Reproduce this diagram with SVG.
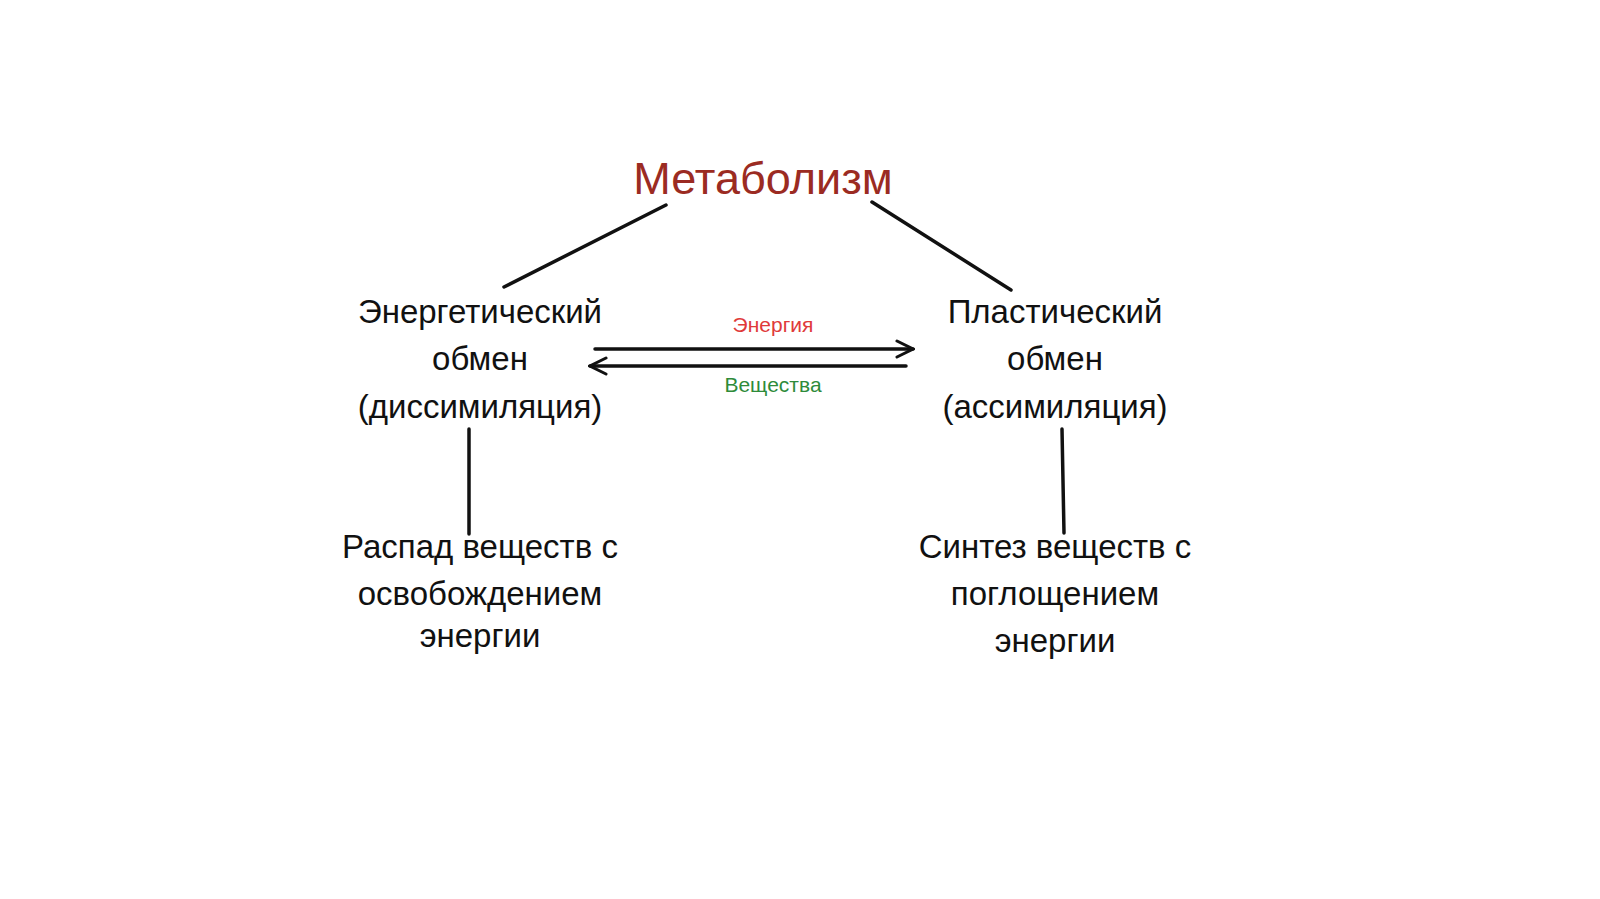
<svg xmlns="http://www.w3.org/2000/svg" width="1600" height="899" viewBox="0 0 1600 899">
<style>
text{font-family:"Liberation Sans","DejaVu Sans",sans-serif;text-anchor:middle}
.n{font-size:33px;fill:#111}
.t{font-size:45px;fill:#9b2b22}
.l{stroke:#111;stroke-width:3.5;fill:none;stroke-linecap:round}
</style>
<defs>
<marker id="ah" viewBox="0 0 20 20" refX="18" refY="10" markerWidth="20" markerHeight="20" markerUnits="userSpaceOnUse" orient="auto">
<path d="M2,2 L18,10 L2,18" fill="none" stroke="#111" stroke-width="3" stroke-linecap="round"/>
</marker>
</defs>
<rect width="1600" height="899" fill="#fff"/>
<g id="title"><text class="t" x="763" y="194">Метаболизм</text></g>
<g id="energy-exchange"><text class="n" x="480" y="323">Энергетический</text><text class="n" x="480" y="370">обмен</text><text class="n" x="480" y="418">(диссимиляция)</text></g>
<g id="plastic-exchange"><text class="n" x="1055" y="323">Пластический</text><text class="n" x="1055" y="370">обмен</text><text class="n" x="1055" y="418">(ассимиляция)</text></g>
<g id="decay"><text class="n" x="480" y="558">Распад веществ с</text><text class="n" x="480" y="605">освобождением</text><text class="n" x="480" y="647">энергии</text></g>
<g id="synthesis"><text class="n" x="1055" y="558">Синтез веществ с</text><text class="n" x="1055" y="605">поглощением</text><text class="n" x="1055" y="652">энергии</text></g>
<g id="connectors">
<line class="l" x1="666" y1="205" x2="504" y2="287"/>
<line class="l" x1="872" y1="202" x2="1011" y2="290"/>
<line class="l" x1="469" y1="429" x2="469" y2="534"/>
<line class="l" x1="1062" y1="429" x2="1064" y2="533"/>
<line class="l" x1="595" y1="349" x2="913" y2="349" marker-end="url(#ah)"/>
<line class="l" x1="906" y1="366" x2="590" y2="366" marker-end="url(#ah)"/>
<text x="773" y="332" style="font-size:21px;fill:#e03a3a">Энергия</text>
<text x="773" y="392" style="font-size:21px;fill:#2e8b3a">Вещества</text>
</g>
</svg>
